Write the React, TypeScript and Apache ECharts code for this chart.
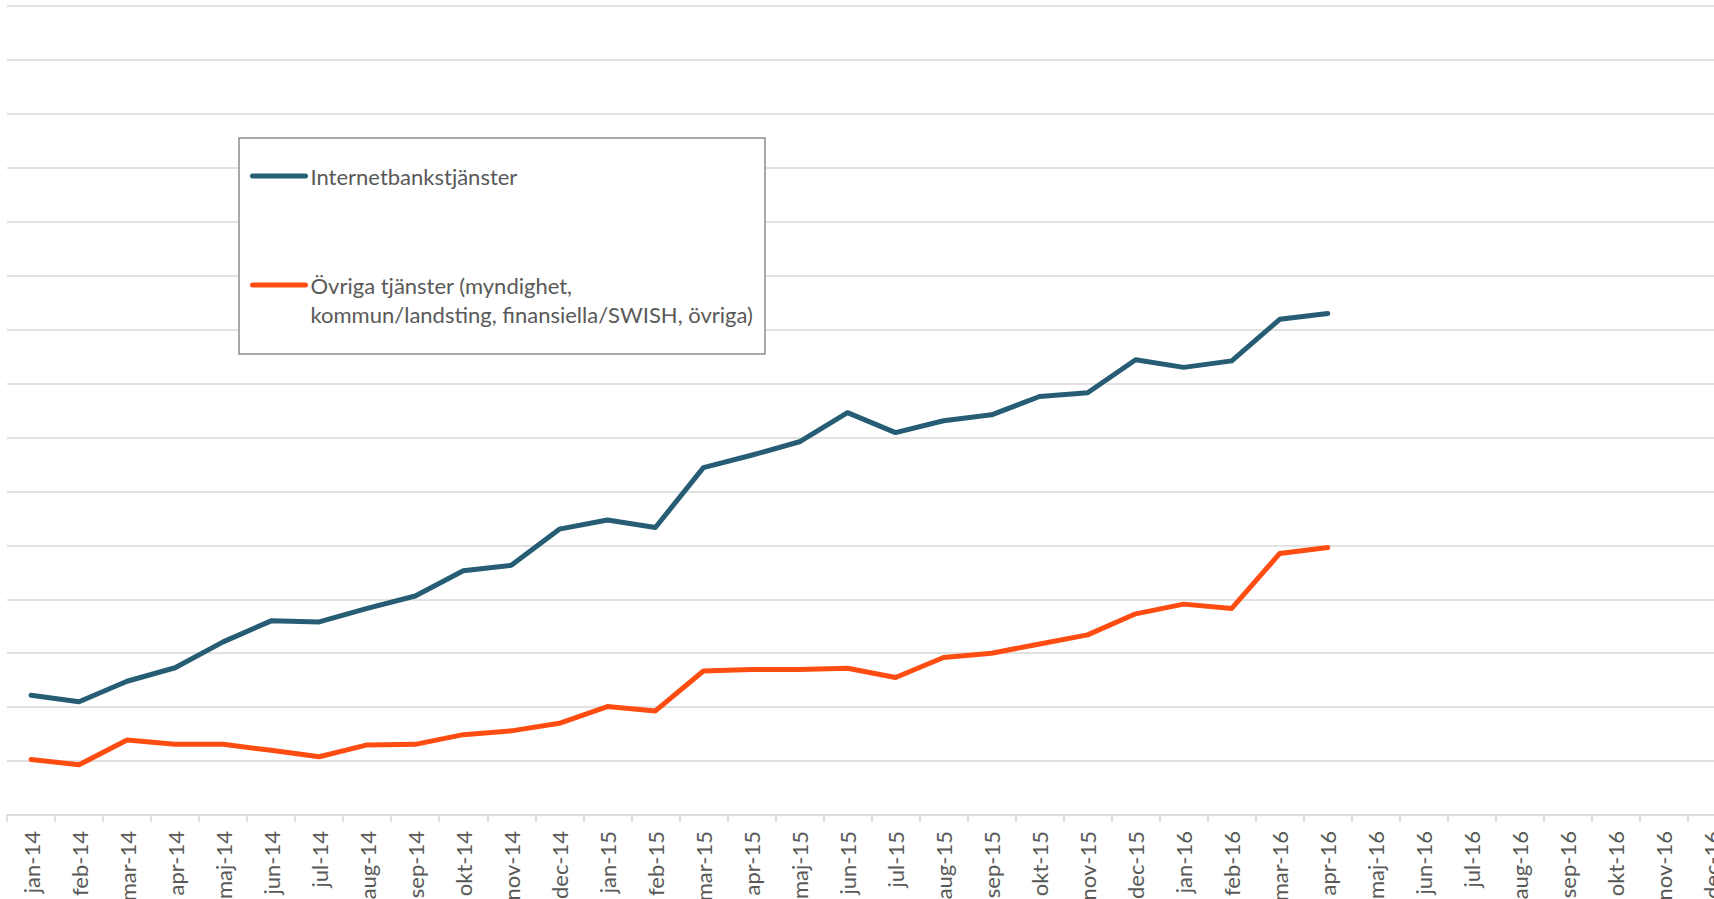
import React, { useEffect, useRef } from "react";
import * as echarts from "echarts";

const months = [
  "jan-14", "feb-14", "mar-14", "apr-14", "maj-14", "jun-14", "jul-14", "aug-14", "sep-14", "okt-14", "nov-14", "dec-14",
  "jan-15", "feb-15", "mar-15", "apr-15", "maj-15", "jun-15", "jul-15", "aug-15", "sep-15", "okt-15", "nov-15", "dec-15",
  "jan-16", "feb-16", "mar-16", "apr-16", "maj-16", "jun-16", "jul-16", "aug-16", "sep-16", "okt-16", "nov-16", "dec-16",
];

const internetName = "Internetbankstjänster";
const internetValues = [
  2.22, 2.10, 2.48, 2.73, 3.21, 3.60, 3.58, 3.83, 4.06, 4.53, 4.63, 5.30,
  5.47, 5.33, 6.44, 6.67, 6.92, 7.46, 7.09, 7.31, 7.42, 7.76, 7.83, 8.44,
  8.30, 8.42, 9.19, 9.30,
];

const otherName = "Övriga tjänster (myndighet,\nkommun/landsting, finansiella/SWISH, övriga)";
const otherValues = [
  1.03, 0.93, 1.39, 1.31, 1.31, 1.20, 1.08, 1.30, 1.31, 1.49, 1.56, 1.70,
  2.01, 1.93, 2.67, 2.70, 2.70, 2.72, 2.55, 2.92, 3.00, 3.17, 3.34, 3.73,
  3.91, 3.83, 4.85, 4.96,
];

const FONT = "Lato, 'Open Sans', sans-serif";
const TEXT = "#595959";
const GRID = "#d9d9d9";

export default function App() {
  const ref = useRef<HTMLDivElement>(null);
  useEffect(() => {
    if (!ref.current) return;
    const chart = echarts.init(ref.current, undefined, { renderer: "svg" });
    const legendCommon = {
      left: 250,
      padding: 0,
      itemWidth: 53,
      itemHeight: 10,
      itemGap: 0,
      z: 5,
      itemStyle: { opacity: 0, borderWidth: 0 },
      lineStyle: { width: 5, cap: "round" },
      textStyle: { color: TEXT, fontSize: 22, lineHeight: 29, fontFamily: FONT },
    };
    chart.setOption({
      animation: false,
      textStyle: { fontFamily: FONT },
      grid: { left: 7, right: 4, top: 6, bottom: 84, containLabel: false, outerBoundsMode: "none" },
      xAxis: {
        type: "category",
        data: months,
        boundaryGap: true,
        axisLine: { show: true, lineStyle: { color: GRID, width: 1.5 } },
        axisTick: { show: true, length: 7, lineStyle: { color: GRID, width: 1.5 } },
        axisLabel: {
          interval: 0,
          rotate: 90,
          margin: 16,
          color: TEXT,
          fontSize: 22,
          fontFamily: FONT,
        },
        splitLine: { show: false },
      },
      yAxis: {
        type: "value",
        min: 0,
        max: 15,
        interval: 1,
        axisLabel: { show: false },
        axisLine: { show: false },
        axisTick: { show: false },
        splitLine: { show: true, lineStyle: { color: GRID, width: 1.5 } },
      },
      graphic: [
        {
          type: "rect",
          z: 3,
          shape: { x: 239, y: 138, width: 526, height: 216 },
          style: { fill: "#ffffff", stroke: "#8c8c8c", lineWidth: 1.5 },
        },
      ],
      legend: [
        { ...legendCommon, data: [internetName], top: 161.5 },
        {
          ...legendCommon,
          data: [otherName],
          top: 241.5,
          formatter: (name: string) => "\n" + name,
        },
      ],
      series: [
        {
          name: internetName,
          type: "line",
          data: internetValues,
          symbol: "none",
          z: 2,
          itemStyle: { color: "#265D74" },
          lineStyle: { color: "#265D74", width: 5, cap: "round", join: "round" },
        },
        {
          name: otherName,
          type: "line",
          data: otherValues,
          symbol: "none",
          z: 2,
          itemStyle: { color: "#FF4D12" },
          lineStyle: { color: "#FF4D12", width: 5, cap: "round", join: "round" },
        },
      ],
    });
    return () => chart.dispose();
  }, []);
  return (
    <div style={{ position: "fixed", left: 0, top: 0, width: 1714, height: 899, overflow: "hidden", background: "#fff" }}>
      <div ref={ref} style={{ position: "absolute", left: 0, top: 0, width: 1740, height: 899 }} />
    </div>
  );
}
